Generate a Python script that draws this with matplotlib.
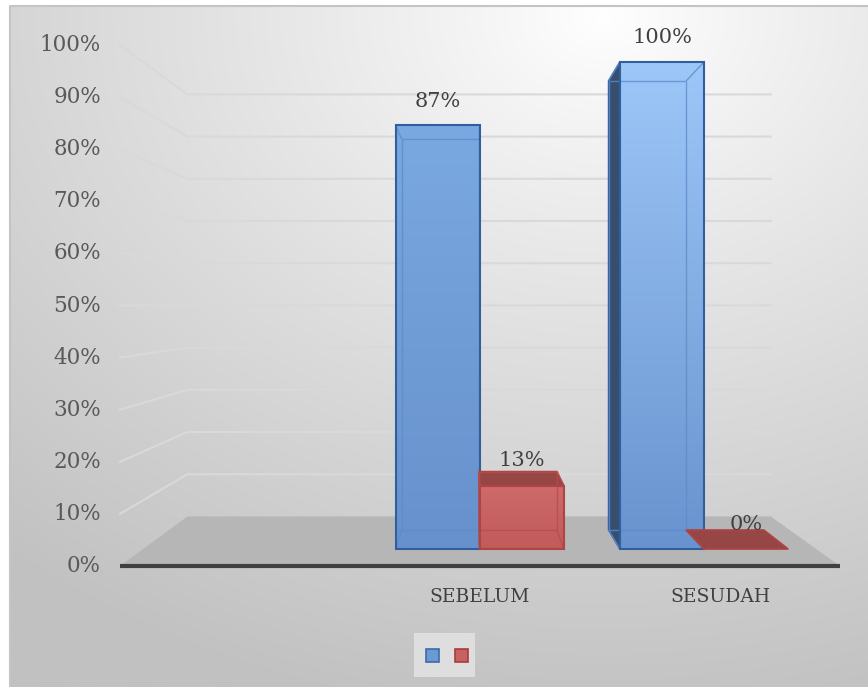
import numpy as np
import matplotlib
matplotlib.use("Agg")
import matplotlib.pyplot as plt
from matplotlib.patches import Polygon, Rectangle
from matplotlib.colors import to_rgb

# data
categories = ["", "SEBELUM", "SESUDAH"]
blue_vals = [np.nan, 87, 100]
red_vals = [np.nan, 13, 0]
yticks = list(range(0, 101, 10))

W, H = 868, 687

# simple one-point perspective (pixel space)
VX, VY = 475, 305          # vanishing point
Y0, PX = 566, 5.21         # front wall baseline, px per percent
XL, XR = 120, 840          # front extent of category axis
R_WALL = 0.81
R_FRONT, R_BACK = 0.935, 0.862


def proj(u, v, r):
    return (VX + r * (u - VX), VY + r * (Y0 - PX * v - VY))


def gradient_fill(ax, pts, c_top, c_bot, z):
    poly = Polygon(pts, closed=True, facecolor="none", edgecolor="none", zorder=z)
    ax.add_patch(poly)
    ys = [p[1] for p in pts]
    xs = [p[0] for p in pts]
    y0, y1 = min(ys), max(ys)
    t = np.linspace(0, 1, 64)[:, None]
    img = (1 - t) * np.array(to_rgb(c_top)) + t * np.array(to_rgb(c_bot))
    img = img[:, None, :].repeat(2, axis=1)
    im = ax.imshow(img, extent=(min(xs), max(xs), y1, y0), aspect="auto",
                   zorder=z, interpolation="bilinear")
    im.set_clip_path(poly)


def draw_bar(ax, u0, u1, v, st, z):
    f = [proj(u0, 0, R_FRONT), proj(u1, 0, R_FRONT), proj(u1, v, R_FRONT), proj(u0, v, R_FRONT)]
    b = [proj(u0, 0, R_BACK), proj(u1, 0, R_BACK), proj(u1, v, R_BACK), proj(u0, v, R_BACK)]
    top = [f[3], f[2], b[2], b[3]]
    left = [f[0], f[3], b[3], b[0]]
    right = [f[1], f[2], b[2], b[1]]
    # back face
    ax.add_patch(Polygon(b, closed=True, facecolor=st["bot"], edgecolor="none", zorder=z))
    # side faces
    if u0 > VX:
        ax.add_patch(Polygon(left, closed=True, facecolor=st["side"], edgecolor=st["edge"],
                             lw=1.2, zorder=z + 0.1))
    if u1 < VX:
        ax.add_patch(Polygon(right, closed=True, facecolor=st["side"], edgecolor=st["edge"],
                             lw=1.2, zorder=z + 0.1))
    if f[3][1] > VY:
        ax.add_patch(Polygon(top, closed=True, facecolor=st["topface"], edgecolor=st["edge"],
                             lw=1.2, zorder=z + 0.1))
    # front face
    if v > 0:
        gradient_fill(ax, f, st["top"], st["bot"], z + 0.2)
        # inner (see-through) edges
        for a, c in [(b[0], b[1]), (b[1], b[2]), (b[2], b[3]), (b[3], b[0]),
                     (f[0], b[0]), (f[1], b[1]), (f[2], b[2]), (f[3], b[3])]:
            ax.plot([a[0], c[0]], [a[1], c[1]], color=st["inner"], lw=1.0,
                    alpha=0.8, zorder=z + 0.3, solid_capstyle="butt")
        ax.add_patch(Polygon(f, closed=True, facecolor="none", edgecolor=st["edge"],
                             lw=1.5, zorder=z + 0.4))
    return f[3]


fig = plt.figure(figsize=(W / 100, H / 100), dpi=100)
ax = fig.add_axes([0, 0, 1, 1])
ax.set_xlim(0, W)
ax.set_ylim(H, 0)
ax.axis("off")

# background gradient, lightest near the top right
yy, xx = np.mgrid[0:H, 0:W]
d = np.hypot((xx - 600) / 1.3, (yy - 10))
g = 255 - 62 * np.clip(d / 720, 0, 1) ** 0.9
bg = np.dstack([g, g, g]) / 255
ax.imshow(bg, extent=(10, W, H, 6), zorder=0, interpolation="bilinear", aspect="auto")
ax.plot([10, 10, W], [H, 6, 6], color="#c4c4c4", lw=1.5, zorder=0.5)

# gridlines (left wall + back wall)
for v in yticks[1:]:
    p0 = (XL, Y0 - PX * v)
    p1 = proj(XL, v, R_WALL)
    p2 = proj(XR, v, R_WALL)
    ax.plot([p0[0], p1[0], p2[0]], [p0[1], p1[1], p2[1]], color="#d9d9d9", lw=1.5, zorder=1)

# floor
floor = [proj(XL, 0, 1), proj(XR, 0, 1), proj(XR, 0, R_WALL), proj(XL, 0, R_WALL)]
ax.add_patch(Polygon(floor, closed=True, facecolor="#b6b6b6", edgecolor="none", zorder=2))
ax.plot([XL, XR], [Y0, Y0], color="#404040", lw=3, zorder=2.5, solid_capstyle="butt")

# y tick labels
for v in yticks:
    ax.text(101, Y0 - PX * v, f"{v}%", ha="right", va="center", fontsize=15.5,
            family="DejaVu Serif", color="#595959", zorder=3)

blue_styles = {
    "SEBELUM": dict(top="#7aa8e0", bot="#6791cc"),
    "SESUDAH": dict(top="#9dc7f8", bot="#6893ce"),
}
blue_common = dict(side="#374f6c", topface="#6f9ad2", edge="#2f5f9e", inner="#5b8ccc")
red_style = dict(top="#cd6a6a", bot="#c25b5b", side="#9a4848", topface="#974646",
                 edge="#b04343", inner="#b84c4c")

n = len(categories)
cw = (XR - XL) / n
bw = cw * 0.375
for i, cat in enumerate(categories):
    uc = XL + cw * (i + 0.5)
    ax.text(uc, 597, cat, ha="center", va="center", fontsize=13.5,
            family="DejaVu Serif", color="#404040", zorder=3)
    if not np.isnan(blue_vals[i]):
        st = dict(blue_common, **blue_styles[cat])
        p = draw_bar(ax, uc - bw, uc, blue_vals[i], st, 4)
        pr = proj(uc - bw / 2, blue_vals[i], R_FRONT)
        ax.text(pr[0], pr[1] - 24, f"{blue_vals[i]:.0f}%", ha="center", va="center",
                fontsize=15, family="DejaVu Serif", color="#404040", zorder=6)
    if not np.isnan(red_vals[i]):
        draw_bar(ax, uc, uc + bw, red_vals[i], red_style, 5)
        pr = proj(uc + bw / 2, red_vals[i], R_FRONT)
        ax.text(pr[0], pr[1] - 25, f"{red_vals[i]:.0f}%", ha="center", va="center",
                fontsize=15, family="DejaVu Serif", color="#404040", zorder=6)

# legend
ax.add_patch(Rectangle((414, 633), 61, 44, facecolor="#dedede", edgecolor="none", zorder=3))
ax.add_patch(Rectangle((426, 649), 13, 13, facecolor="#6a9ad4", edgecolor="#3c6aa8", lw=1.2, zorder=4))
ax.add_patch(Rectangle((455, 649), 13, 13, facecolor="#c86262", edgecolor="#a83c3c", lw=1.2, zorder=4))

fig.savefig("out.png", dpi=100)
